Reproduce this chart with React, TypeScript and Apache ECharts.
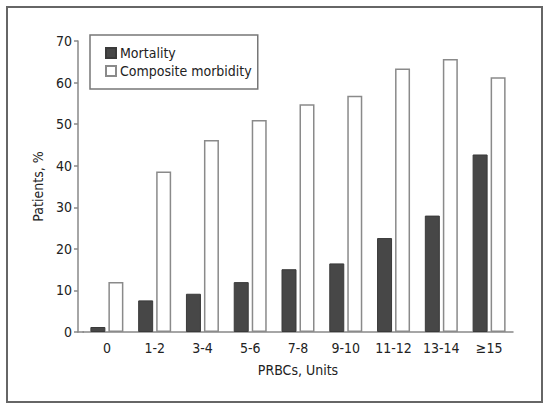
import React, { useEffect, useRef } from "react";
import * as echarts from "echarts";

const categories = ["0", "1-2", "3-4", "5-6", "7-8", "9-10", "11-12", "13-14", "≥15"];
const mortality = [1.2, 7.6, 9.2, 12.0, 15.1, 16.5, 22.6, 28.0, 42.7];
const compositeMorbidity = [12.0, 38.6, 46.2, 51.0, 54.8, 56.8, 63.4, 65.7, 61.3];
const yTicks = [0, 10, 20, 30, 40, 50, 60, 70];

const FONT = "'Liberation Sans Narrow', 'DejaVu Sans Condensed', 'Liberation Sans', sans-serif";

export default function App() {
  const ref = useRef<HTMLDivElement>(null);
  useEffect(() => {
    document.body.style.margin = "0";
    if (!ref.current) return;
    const chart = echarts.init(ref.current, undefined, { renderer: "svg" });
    chart.setOption({
      animation: false,
      backgroundColor: "#ffffff",
      textStyle: { fontFamily: FONT },
      grid: { left: 83, top: 41, width: 430, bottom: 77, containLabel: false },
      legend: {
        orient: "vertical",
        left: 90,
        top: 35,
        padding: [10, 6, 10, 15],
        itemGap: 2,
        itemWidth: 10,
        itemHeight: 10,
        icon: "rect",
        borderColor: "#777",
        borderWidth: 1.5,
        textStyle: { fontFamily: FONT, fontSize: 14, color: "#222", lineHeight: 16, padding: [0, 0, 0, -1] },
        data: ["Mortality", "Composite morbidity"],
      },
      xAxis: {
        type: "category",
        data: categories,
        name: "PRBCs, Units",
        nameLocation: "middle",
        nameGap: 31,
        nameTextStyle: { fontFamily: FONT, fontSize: 14, color: "#222" },
        axisLine: { lineStyle: { color: "#888", width: 1.5 } },
        axisTick: { alignWithLabel: true, length: 4, lineStyle: { color: "#888", width: 1.5 } },
        axisLabel: { fontFamily: FONT, fontSize: 14, color: "#222", margin: 9 },
      },
      yAxis: {
        type: "value",
        min: 0,
        max: 70,
        interval: 10,
        offset: 5,
        name: "Patients, %",
        nameLocation: "middle",
        nameGap: 28,
        nameTextStyle: { fontFamily: FONT, fontSize: 14, color: "#222" },
        splitLine: { show: false },
        axisLine: { show: true, lineStyle: { color: "#888", width: 1.5 } },
        axisTick: { show: true, length: 4, lineStyle: { color: "#888", width: 1.5 } },
        axisLabel: {
          fontFamily: FONT,
          fontSize: 14,
          color: "#222",
          margin: 6,
          formatter: (v: number) => (yTicks.includes(v) ? String(v) : ""),
        },
      },
      graphic: [
        {
          type: "rect",
          shape: { x: 7, y: 7, width: 535, height: 395 },
          style: { fill: "none", stroke: "#666", lineWidth: 2 },
          silent: true,
        },
        {
          type: "line",
          shape: { x1: 77.5, y1: 332, x2: 84, y2: 332 },
          style: { stroke: "#888", lineWidth: 1.5 },
          silent: true,
        },
      ],
      series: [
        {
          name: "Mortality",
          type: "bar",
          data: mortality,
          barWidth: 15,
          barGap: "20%",
          itemStyle: { color: "#474747", borderColor: "#3a3a3a", borderWidth: 1 },
        },
        {
          name: "Composite morbidity",
          type: "bar",
          data: compositeMorbidity,
          barWidth: 15,
          barGap: "20%",
          itemStyle: { color: "#ffffff", borderColor: "#8a8a8a", borderWidth: 1.5 },
        },
      ],
    });
    return () => chart.dispose();
  }, []);
  return <div ref={ref} style={{ width: 550, height: 409 }} />;
}
